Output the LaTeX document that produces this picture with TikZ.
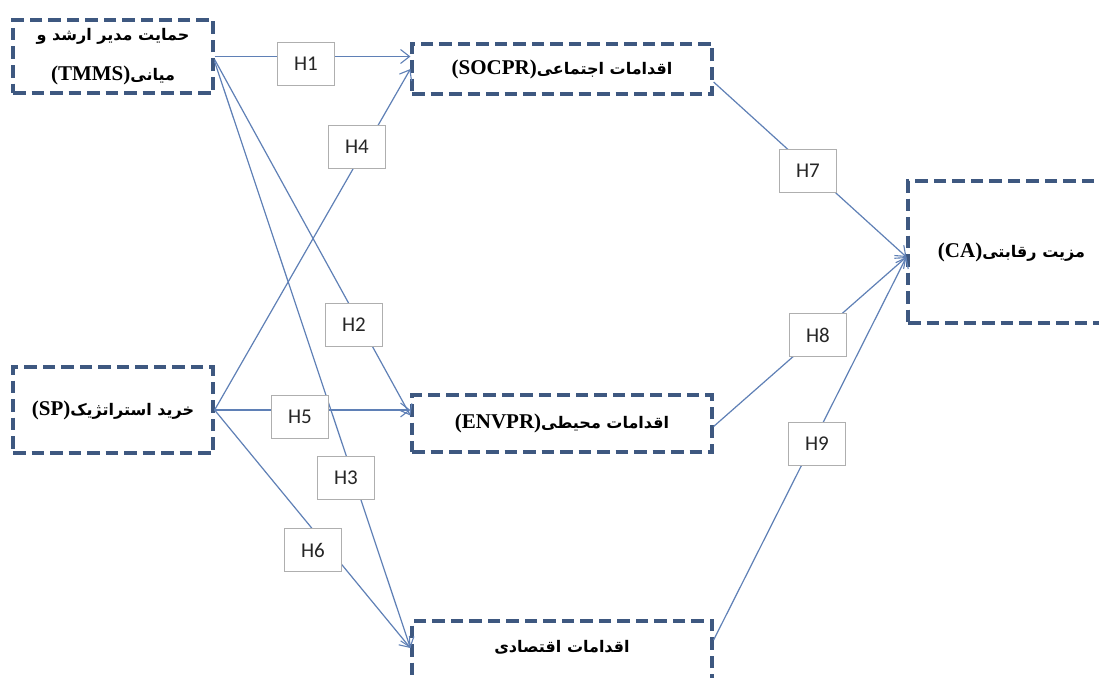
\documentclass[tikz,border=0pt]{standalone}
\usepackage{fontspec}
\usetikzlibrary{arrows.meta}
\TeXXeTstate=1
\newfontfamily\arfont[Script=Arabic]{DejaVu Sans}
\newfontfamily\latfont{Liberation Serif}
\newfontfamily\hfont{Carlito}
\definecolor{boxcol}{RGB}{62,88,128}
\definecolor{linecol}{RGB}{95,128,182}
\definecolor{hcol}{RGB}{175,175,175}
\newcommand{\ar}{\arfont\bfseries\fontsize{16}{19}\selectfont}
\newcommand{\lat}{\latfont\bfseries\fontsize{21}{24}\selectfont}
\begin{document}
\begin{tikzpicture}[x=1pt,y=-1pt,
  varbox/.style={draw=boxcol, line width=3.2pt, dash pattern=on 12.5pt off 6pt,
    fill=white, inner sep=0pt, align=center, anchor=center},
  hbox/.style={draw=hcol, line width=0.9pt, fill=white, minimum width=57pt,
    minimum height=43pt, inner sep=0pt, font=\hfont\fontsize{21}{24}\selectfont, text=black!85},
  conn/.style={draw=linecol, line width=1.2pt, -{Straight Barb[length=9pt,width=14pt,line width=1.1pt]}}]
\useasboundingbox (0,0) rectangle (1099,677);
\clip (0,0) rectangle (1099,677);
\fill[white] (0,0) rectangle (1099,677);

% variable boxes
\node[varbox, minimum width=200pt, minimum height=73pt] (tmms) at (113,56.5)
  {\ar\beginR حمایت مدیر ارشد و\endR\\[21pt]\ar\beginR میانی\beginL\lat(TMMS)\endL\endR};
\node[varbox, minimum width=200pt, minimum height=86pt] (sp) at (113,410)
  {\ar\beginR خرید استراتژیک\beginL\lat(SP)\endL\endR};
\node[varbox, minimum width=300pt, minimum height=50pt] (socpr) at (562,69)
  {\ar\beginR اقدامات اجتماعی\beginL\lat(SOCPR)\endL\endR};
\node[varbox, minimum width=300pt, minimum height=57pt] (envpr) at (562,423.5)
  {\ar\beginR اقدامات محیطی\beginL\lat(ENVPR)\endL\endR};
\node[varbox, minimum width=300pt, minimum height=80pt, text depth=30pt] (econ) at (562,661)
  {\ar\beginR اقدامات اقتصادی\endR};
\node[varbox, minimum width=207pt, minimum height=142pt] (ca) at (1011.5,252)
  {\ar\beginR مزیت رقابتی\beginL\lat(CA)\endL\endR};

% connectors
\draw[conn] (tmms.east) -- (socpr.west |- tmms.east);
\draw[conn] ([yshift=-3pt]tmms.east) -- ([yshift=8pt]envpr.west);
\draw[conn] ([yshift=-5pt]tmms.east) -- ([yshift=13pt]econ.west);
\draw[conn] (sp.east) -- (socpr.west);
\draw[conn] (sp.east) -- (envpr.west |- sp.east);
\draw[conn] (sp.east) -- ([yshift=13pt]econ.west);
\draw[conn] ([yshift=-13pt]socpr.east) -- ([yshift=-5pt]ca.west);
\draw[conn] ([yshift=-3pt]envpr.east) -- ([yshift=-5pt]ca.west);
\draw[conn] ([yshift=21pt]econ.east) -- ([yshift=-5pt]ca.west);

% hypothesis labels
\node[hbox] (h1) at (306,64) {H1};
\node[hbox] (h4) at (357,147) {H4};
\node[hbox] (h2) at (354,325) {H2};
\node[hbox] (h5) at (300,417) {H5};
\node[hbox] (h3) at (346,478) {H3};
\node[hbox] (h6) at (313,550) {H6};
\node[hbox] (h7) at (808,171) {H7};
\node[hbox] (h8) at (818,335) {H8};
\node[hbox] (h9) at (817,444) {H9};
\end{tikzpicture}
\end{document}
